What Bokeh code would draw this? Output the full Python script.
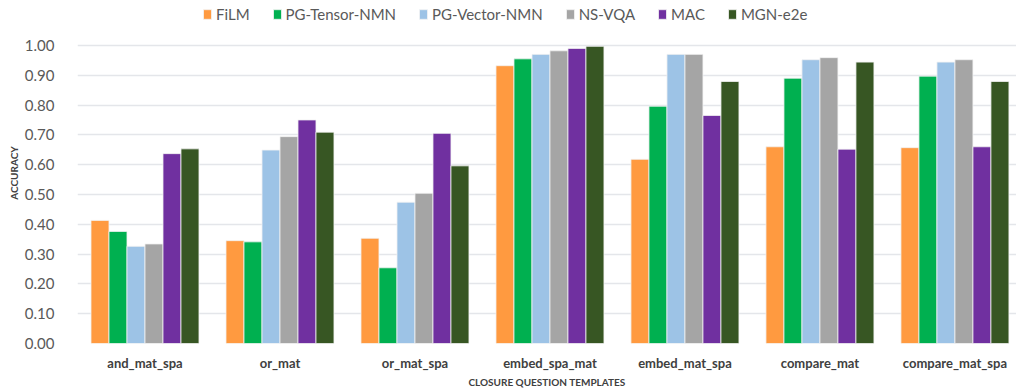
from bokeh.plotting import figure
from bokeh.models import ColumnDataSource, Legend, LegendItem, FixedTicker, NumeralTickFormatter, Range1d
from bokeh.transform import dodge
from bokeh.embed import file_html
from bokeh.resources import INLINE

categories = ["and_mat_spa", "or_mat", "or_mat_spa", "embed_spa_mat", "embed_mat_spa", "compare_mat", "compare_mat_spa"]
series = ["FiLM", "PG-Tensor-NMN", "PG-Vector-NMN", "NS-VQA", "MAC", "MGN-e2e"]
film = [0.413, 0.345, 0.353, 0.932, 0.618, 0.660, 0.657]
pg_tensor = [0.376, 0.341, 0.254, 0.955, 0.796, 0.890, 0.897]
pg_vector = [0.326, 0.649, 0.474, 0.970, 0.970, 0.952, 0.944]
ns_vqa = [0.334, 0.694, 0.504, 0.982, 0.970, 0.959, 0.952]
mac = [0.637, 0.750, 0.705, 0.990, 0.765, 0.652, 0.660]
mgn = [0.653, 0.709, 0.596, 0.997, 0.879, 0.944, 0.879]
values = [film, pg_tensor, pg_vector, ns_vqa, mac, mgn]
colors = ["#FF9A40", "#00B050", "#9DC3E6", "#A5A5A5", "#7030A0", "#375623"]
y_ticks = [0.0, 0.1, 0.2, 0.3, 0.4, 0.5, 0.6, 0.7, 0.8, 0.9, 1.0]
x_title = "CLOSURE QUESTION TEMPLATES"
y_title = "ACCURACY"

FONT = "Lato"
TXT = "#595959"

p = figure(width=1016, height=390, output_backend="svg", toolbar_location=None,
           x_range=Range1d(-0.5, 6.456), y_range=Range1d(0, 1.144),
           min_border_left=77, min_border_right=0, min_border_top=2, min_border_bottom=47)
p.outline_line_color = None
p.background_fill_color = "white"

src = ColumnDataSource(dict(x=list(range(len(categories))), **{f"s{i}": v for i, v in enumerate(values)}))
bw = 0.8 / len(series)
items = []
for i, (name, col) in enumerate(zip(series, colors)):
    off = (i - (len(series) - 1) / 2) * bw
    r = p.vbar(x=dodge("x", off, range=p.x_range), top=f"s{i}", width=bw, source=src,
               fill_color=col, line_color="#F2F2F2", line_width=0.8)
    items.append(LegendItem(label=name, renderers=[r]))

legend = Legend(items=items, orientation="horizontal", location=(125, 320),
                label_text_font=FONT, label_text_font_size="15px", label_text_color=TXT,
                glyph_width=10, glyph_height=12, label_standoff=4, spacing=22,
                padding=0, margin=0, border_line_color=None, background_fill_alpha=0,
                label_height=18)
p.add_layout(legend, "center")

p.xgrid.grid_line_color = None
p.ygrid.grid_line_color = "#E4E6EA"
p.ygrid.grid_line_width = 1.5
p.ygrid.ticker = FixedTicker(ticks=y_ticks)

p.yaxis.ticker = FixedTicker(ticks=y_ticks)
p.yaxis.formatter = NumeralTickFormatter(format="0.00")
p.yaxis.axis_line_color = None
p.yaxis.major_tick_line_color = None
p.yaxis.minor_tick_line_color = None
p.yaxis.major_label_text_font = FONT
p.yaxis.major_label_text_font_size = "15px"
p.yaxis.major_label_text_color = TXT
p.yaxis.major_label_standoff = 17
p.yaxis.axis_label = y_title
p.yaxis.axis_label_text_font = FONT
p.yaxis.axis_label_text_font_size = "10px"
p.yaxis.axis_label_text_font_style = "bold"
p.yaxis.axis_label_text_color = "#404040"
p.yaxis.axis_label_standoff = 2

p.xaxis.ticker = FixedTicker(ticks=list(range(len(categories))))
p.xaxis.major_label_overrides = {i: c for i, c in enumerate(categories)}
p.xaxis.axis_line_color = None
p.xaxis.major_tick_line_color = None
p.xaxis.minor_tick_line_color = None
p.xaxis.major_label_text_font = FONT
p.xaxis.major_label_text_font_size = "13px"
p.xaxis.major_label_text_font_style = "bold"
p.xaxis.major_label_text_color = "#404040"
p.xaxis.major_label_standoff = 5
p.xaxis.axis_label = x_title
p.xaxis.axis_label_text_font = FONT
p.xaxis.axis_label_text_font_size = "10px"
p.xaxis.axis_label_text_font_style = "bold"
p.xaxis.axis_label_text_color = "#404040"
p.xaxis.axis_label_standoff = 2

open("out.html", "w").write(file_html(p, INLINE))
